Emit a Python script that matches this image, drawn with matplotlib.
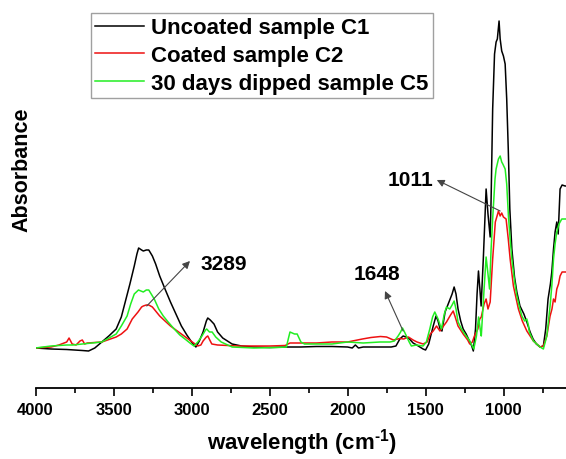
import matplotlib
matplotlib.use("Agg")
import matplotlib.pyplot as plt
from matplotlib.ticker import MultipleLocator

plt.rcParams['font.family'] = ['Liberation Sans', 'DejaVu Sans']
plt.rcParams['font.weight'] = 'bold'
plt.rcParams['mathtext.fontset'] = 'custom'
plt.rcParams['mathtext.rm'] = 'Liberation Sans:bold'
plt.rcParams['mathtext.bf'] = 'Liberation Sans:bold'
plt.rcParams['mathtext.default'] = 'bf'

# ---------------- data (wavenumber, absorbance, arbitrary units) ----------------
c1_wn = [4000, 3900, 3800, 3700, 3660, 3620, 3575, 3530, 3483, 3450, 3425, 3395, 3367, 3350,
         3339, 3320, 3309, 3290, 3274, 3251, 3230, 3204, 3170, 3135, 3100, 3065, 3030, 2995,
         2972, 2950, 2926, 2905, 2896, 2880, 2856, 2833, 2800, 2740, 2680, 2601, 2500, 2400,
         2300, 2200, 2100, 2000, 1970, 1950, 1930, 1900, 1789, 1720, 1690, 1665, 1644, 1625,
         1603, 1580, 1557, 1516, 1500, 1480, 1451, 1433, 1420, 1407, 1395, 1375, 1350, 1330,
         1317, 1305, 1292, 1275, 1259, 1240, 1225, 1204, 1194, 1180, 1170, 1161, 1152, 1144,
         1130, 1112, 1100, 1086, 1080, 1070, 1058, 1048, 1040, 1029, 1022, 1012, 1001, 990,
         980, 970, 960, 947, 930, 915, 895, 870, 851, 830, 811, 790, 766, 745, 730, 715, 700,
         691, 680, 670, 659, 650, 638, 625, 606, 600]
c1_abs = [0.01, 0.00, -0.005, -0.015, -0.02, 0.01, 0.07, 0.13, 0.20, 0.32, 0.47, 0.65, 0.83, 0.95,
          1.01, 0.99, 0.98, 0.99, 0.99, 0.93, 0.85, 0.73, 0.60, 0.47, 0.35, 0.23, 0.14, 0.06,
          0.02, 0.08, 0.17, 0.28, 0.31, 0.29, 0.25, 0.17, 0.11, 0.05, 0.03, 0.02, 0.015, 0.02,
          0.02, 0.025, 0.025, 0.02, 0.01, 0.04, 0.01, 0.02, 0.02, 0.02, 0.03, 0.10, 0.13, 0.12,
          0.10, 0.06, 0.04, 0.00, -0.01, 0.05, 0.23, 0.33, 0.28, 0.20, 0.18, 0.37, 0.47, 0.55,
          0.62, 0.55, 0.40, 0.28, 0.20, 0.15, 0.10, 0.03, -0.02, 0.20, 0.55, 0.78, 0.60, 0.43,
          0.90, 1.60, 1.35, 1.12, 1.50, 2.40, 2.95, 3.07, 3.10, 3.28, 3.10, 2.98, 2.93, 2.85,
          2.50, 2.00, 1.40, 1.00, 0.72, 0.57, 0.43, 0.35, 0.27, 0.17, 0.10, 0.05, 0.02, 0.03,
          0.20, 0.50, 0.65, 0.77, 1.00, 1.17, 1.27, 1.15, 1.60, 1.64, 1.63, 1.63]

c2_wn = [4000, 3900, 3850, 3800, 3785, 3765, 3740, 3715, 3700, 3685, 3668, 3575, 3483, 3450,
         3413, 3380, 3343, 3320, 3309, 3290, 3274, 3251, 3204, 3170, 3135, 3100, 3065, 2995,
         2960, 2940, 2926, 2905, 2896, 2880, 2870, 2833, 2700, 2500, 2400, 2369, 2300, 2200,
         2100, 2000, 1905, 1850, 1789, 1750, 1706, 1665, 1640, 1610, 1580, 1555, 1516, 1490,
         1470, 1451, 1430, 1408, 1385, 1366, 1340, 1323, 1310, 1292, 1259, 1230, 1217, 1200,
         1187, 1165, 1153, 1143, 1125, 1112, 1100, 1086, 1070, 1053, 1040, 1033, 1022, 1012,
         1001, 984, 970, 958, 937, 905, 880, 851, 830, 809, 766, 745, 723, 702, 690, 680, 670,
         659, 648, 638, 625, 606, 600]
c2_abs = [0.01, 0.02, 0.04, 0.07, 0.11, 0.05, 0.04, 0.08, 0.09, 0.05, 0.06, 0.07, 0.12, 0.15,
          0.20, 0.30, 0.37, 0.42, 0.43, 0.44, 0.44, 0.42, 0.33, 0.28, 0.23, 0.19, 0.15, 0.07,
          0.03, 0.04, 0.08, 0.12, 0.13, 0.08, 0.05, 0.04, 0.03, 0.03, 0.035, 0.06, 0.06, 0.06,
          0.07, 0.07, 0.10, 0.115, 0.125, 0.12, 0.09, 0.105, 0.10, 0.12, 0.09, 0.07, 0.05, 0.07,
          0.15, 0.18, 0.23, 0.18, 0.23, 0.27, 0.34, 0.38, 0.32, 0.23, 0.15, 0.09, 0.05, 0.07,
          0.13, 0.20, 0.30, 0.32, 0.45, 0.50, 0.40, 0.47, 0.90, 1.27, 1.34, 1.38, 1.33, 1.36,
          1.32, 1.30, 1.10, 0.90, 0.63, 0.40, 0.28, 0.18, 0.13, 0.08, 0.02, 0.03, 0.13, 0.33,
          0.40, 0.50, 0.47, 0.60, 0.65, 0.73, 0.77, 0.77, 0.77]

c5_wn = [4000, 3900, 3800, 3761, 3700, 3575, 3483, 3450, 3413, 3390, 3367, 3340, 3309, 3290,
         3274, 3239, 3210, 3181, 3150, 3111, 3075, 3042, 3010, 2984, 2960, 2937, 2910, 2903,
         2885, 2868, 2845, 2810, 2740, 2601, 2450, 2392, 2380, 2369, 2340, 2323, 2299, 2276,
         2200, 2100, 2000, 1900, 1792, 1728, 1700, 1676, 1660, 1648, 1635, 1623, 1605, 1591,
         1560, 1516, 1495, 1473, 1455, 1441, 1420, 1398, 1380, 1366, 1345, 1330, 1317, 1305,
         1292, 1270, 1249, 1217, 1191, 1174, 1160, 1150, 1143, 1125, 1112, 1100, 1090, 1080,
         1069, 1055, 1048, 1033, 1022, 1012, 1005, 990, 980, 969, 958, 947, 930, 915, 900, 883,
         865, 851, 840, 835, 809, 766, 745, 723, 702, 690, 680, 670, 659, 645, 627, 606, 600]
c5_abs = [0.01, 0.03, 0.04, 0.04, 0.05, 0.07, 0.15, 0.23, 0.33, 0.45, 0.55, 0.59, 0.57, 0.59,
          0.59, 0.50, 0.40, 0.33, 0.27, 0.20, 0.14, 0.10, 0.06, 0.03, 0.07, 0.12, 0.19, 0.20,
          0.17, 0.17, 0.12, 0.07, 0.02, 0.01, 0.015, 0.02, 0.10, 0.17, 0.15, 0.15, 0.07, 0.05,
          0.05, 0.05, 0.07, 0.06, 0.07, 0.07, 0.08, 0.13, 0.17, 0.21, 0.17, 0.13, 0.07, 0.03,
          0.04, 0.03, 0.07, 0.20, 0.32, 0.37, 0.30, 0.20, 0.35, 0.42, 0.40, 0.44, 0.48, 0.40,
          0.27, 0.20, 0.15, 0.08, 0.00, 0.13, 0.32, 0.20, 0.13, 0.60, 0.92, 0.75, 0.60, 1.00,
          1.33, 1.70, 1.80, 1.90, 1.93, 1.87, 1.85, 1.80, 1.65, 1.33, 1.10, 0.90, 0.68, 0.53,
          0.43, 0.33, 0.28, 0.30, 0.23, 0.17, 0.08, 0.02, 0.00, 0.13, 0.43, 0.65, 0.90, 1.05,
          1.17, 1.25, 1.30, 1.30, 1.30]

series_labels = ["Uncoated sample C1", "Coated sample C2", "30 days dipped sample C5"]

# annotations: label, text position, arrow head, arrow tail
ann_labels = ["3289", "1648", "1011"]
ann_text = [(2792, 0.85), (1811, 0.75), (1599, 1.70)]
ann_head = [(3010, 0.88), (1760, 0.58), (1428, 1.69)]
ann_tail = [(3287, 0.43), (1644, 0.18), (1022, 1.38)]

# ---------------- figure ----------------
fig = plt.figure(figsize=(5.66, 4.6), dpi=100)
ax = fig.add_axes([35.5 / 566, 71 / 460, 530.5 / 566, 389 / 460])

ax.plot(c1_wn, c1_abs, color='black', lw=1.1, label=series_labels[0])
ax.plot(c2_wn, c2_abs, color='#ee1111', lw=1.1, label=series_labels[1])
ax.plot(c5_wn, c5_abs, color='#22ee22', lw=1.1, label=series_labels[2])

ax.set_xlim(4000, 600)
ax.set_ylim(-0.39, 3.5)

for s in ['top', 'right', 'left']:
    ax.spines[s].set_visible(False)
ax.spines['bottom'].set_linewidth(1.3)
ax.set_yticks([])
ax.xaxis.set_major_locator(MultipleLocator(500))
ax.xaxis.set_minor_locator(MultipleLocator(250))
ax.tick_params(axis='x', which='major', direction='out', length=6, width=1.2, labelsize=12, pad=4)
ax.tick_params(axis='x', which='minor', direction='out', length=3.5, width=1.2)
for lbl in ax.get_xticklabels():
    lbl.set_fontweight('bold')

for lab, tp, hd, tl in zip(ann_labels, ann_text, ann_head, ann_tail):
    ax.text(tp[0], tp[1], lab, fontsize=15, fontweight='bold', ha='center', va='center')
    ax.annotate('', xy=hd, xytext=tl,
                arrowprops=dict(arrowstyle='-|>', color='#444444', lw=0.8,
                                mutation_scale=11, shrinkA=0, shrinkB=0))

leg = ax.legend(loc='upper left', bbox_to_anchor=(91 / 566, 1 - 14 / 460),
                bbox_transform=fig.transFigure, fontsize=16, frameon=True, fancybox=False,
                handlelength=2.2, handletextpad=0.3, labelspacing=0.3, borderpad=0.2,
                borderaxespad=0)
leg.get_frame().set_edgecolor('#888888')
leg.get_frame().set_linewidth(1.0)
for t in leg.get_texts():
    t.set_fontweight('bold')

fig.text(22 / 566, 1 - 170 / 460, 'Absorbance', rotation=90, ha='center', va='center',
         fontsize=15.5, fontweight='bold')
fig.text(302 / 566, 1 - 443 / 460, r'wavelength (cm$^{\text{-1}}$)', ha='center', va='center',
         fontsize=16, fontweight='bold')

fig.savefig('out.png', dpi=100)
